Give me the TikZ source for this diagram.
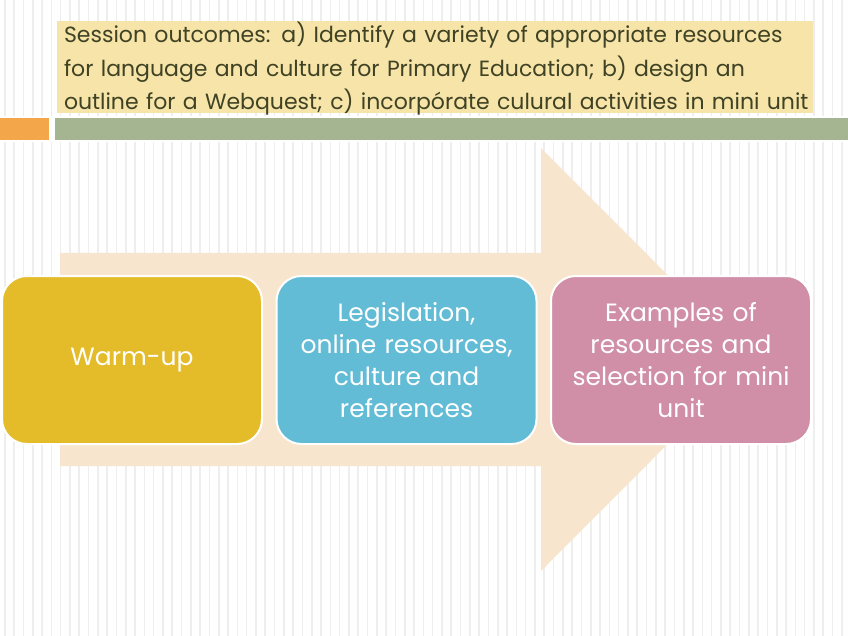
\documentclass[tikz,border=0pt]{standalone}
\usepackage{fontspec}
\setmainfont{Poppins}
\definecolor{stripe}{HTML}{EEEEEE}
\definecolor{titlefill}{HTML}{F6E4A8}
\definecolor{titletext}{HTML}{3F4224}
\definecolor{barorange}{HTML}{F4A64A}
\definecolor{bargreen}{HTML}{A5B592}
\definecolor{arrowfill}{HTML}{F7E6CD}
\definecolor{boxyellow}{HTML}{E4BC2A}
\definecolor{boxblue}{HTML}{62BCD6}
\definecolor{boxpink}{HTML}{D08FA6}
\tikzset{
  stepbox/.style={rounded corners=25pt, draw=white, line width=2pt,
    minimum width=260pt, minimum height=168pt, text width=240pt,
    align=center, text=white, font=\fontsize{25}{32}\selectfont},
  titlebox/.style={fill=titlefill, minimum width=756pt, minimum height=92pt,
    text width=746pt, inner sep=0pt, align=left, text=titletext,
    font=\fontsize{22}{33.5}\selectfont}
}
\begin{document}
\begin{tikzpicture}[x=1pt,y=-1pt]
\useasboundingbox (0,0) rectangle (848,636);
\fill[white] (0,0) rectangle (848,636);
\foreach \i in {0,...,91} \fill[stripe] ({4+\i*9.3},0) rectangle ++(1.6,636);
% title
\fill[titlefill] (57,21) rectangle (813,113);
\node[titlebox, fill=none] (title) at (437,69) {Session outcomes: a) Identify a variety of appropriate resources\\for language and culture for Primary Education; b) design an\\outline for a Webquest; c) incorpórate culural activities in mini unit};
% bars
\fill[white] (0,116) rectangle (848,142);
\fill[barorange] (0,118) rectangle (49,140);
\fill[bargreen] (55,118) rectangle (848,140);
% arrow
\fill[arrowfill] (60,253) -- (541,253) -- (541,148) -- (752,359.5) -- (541,571) -- (541,466) -- (60,466) -- cycle;
% boxes
\node[stepbox, fill=boxyellow] (b1) at (132,360) {Warm-up};
\node[stepbox, fill=boxblue] (b2) at (406.5,360) {Legislation,\\online resources,\\culture and\\references};
\node[stepbox, fill=boxpink] (b3) at (681,360) {Examples of\\resources and\\selection for mini\\unit};
\end{tikzpicture}
\end{document}
